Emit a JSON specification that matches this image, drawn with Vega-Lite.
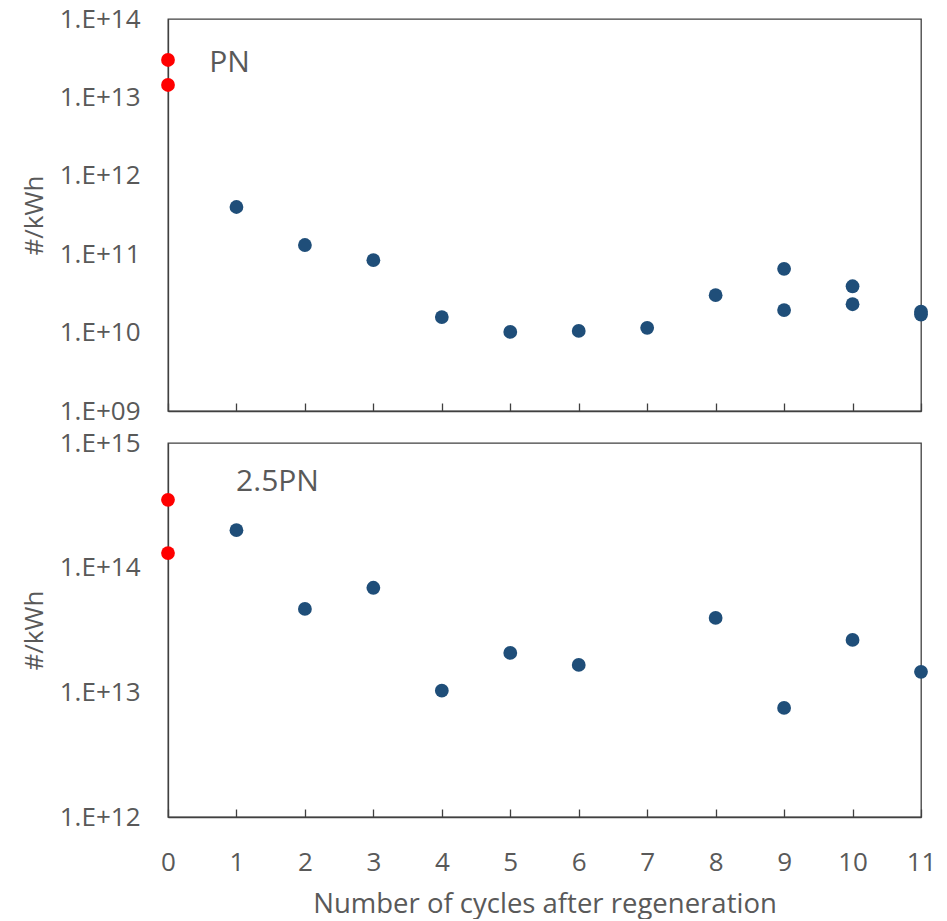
{
  "$schema": "https://vega.github.io/schema/vega-lite/v6.json",
  "background": "white",
  "padding": {"left": 20, "top": 5, "right": 20, "bottom": 0},
  "spacing": 4,
  "config": {
    "font": "Open Sans",
    "view": {"stroke": "#404040", "strokeWidth": 1.3},
    "axis": {"labelColor": "#595959", "titleColor": "#595959", "domainColor": "#404040", "tickColor": "#404040", "grid": false, "labelFont": "Open Sans", "titleFont": "Open Sans", "titleFontWeight": "normal"}
  },
  "datasets": {
    "pn": [
      {"cycle": 0, "value": 3.0e13, "group": "red"},
      {"cycle": 0, "value": 1.44e13, "group": "red"},
      {"cycle": 1, "value": 4.0e11, "group": "blue"},
      {"cycle": 2, "value": 1.31e11, "group": "blue"},
      {"cycle": 3, "value": 8.4e10, "group": "blue"},
      {"cycle": 4, "value": 1.58e10, "group": "blue"},
      {"cycle": 5, "value": 1.02e10, "group": "blue"},
      {"cycle": 6, "value": 1.05e10, "group": "blue"},
      {"cycle": 7, "value": 1.15e10, "group": "blue"},
      {"cycle": 8, "value": 3.0e10, "group": "blue"},
      {"cycle": 9, "value": 6.5e10, "group": "blue"},
      {"cycle": 9, "value": 1.94e10, "group": "blue"},
      {"cycle": 10, "value": 3.9e10, "group": "blue"},
      {"cycle": 10, "value": 2.3e10, "group": "blue"},
      {"cycle": 11, "value": 1.85e10, "group": "blue"},
      {"cycle": 11, "value": 1.7e10, "group": "blue"}
    ],
    "pn25": [
      {"cycle": 0, "value": 3.5e14, "group": "red"},
      {"cycle": 0, "value": 1.31e14, "group": "red"},
      {"cycle": 1, "value": 2.0e14, "group": "blue"},
      {"cycle": 2, "value": 4.67e13, "group": "blue"},
      {"cycle": 3, "value": 6.9e13, "group": "blue"},
      {"cycle": 4, "value": 1.03e13, "group": "blue"},
      {"cycle": 5, "value": 2.07e13, "group": "blue"},
      {"cycle": 6, "value": 1.66e13, "group": "blue"},
      {"cycle": 8, "value": 3.95e13, "group": "blue"},
      {"cycle": 9, "value": 7.5e12, "group": "blue"},
      {"cycle": 10, "value": 2.63e13, "group": "blue"},
      {"cycle": 11, "value": 1.46e13, "group": "blue"}
    ],
    "labels_pn": [{"label": "PN"}],
    "labels_pn25": [{"label": "2.5PN"}]
  },
  "vconcat": [
    {
      "width": 753,
      "height": 392,
      "layer": [
        {
          "data": {"name": "pn"},
          "mark": {"type": "point", "filled": true, "opacity": 1, "size": 190},
          "encoding": {
            "x": {"field": "cycle", "type": "quantitative",
              "scale": {"domain": [0, 11], "nice": false, "zero": false},
              "axis": {"values": [0,1,2,3,4,5,6,7,8,9,10,11], "labels": false, "title": null, "tickSize": -8, "tickWidth": 1.3, "domainWidth": 1.3}},
            "y": {"field": "value", "type": "quantitative",
              "scale": {"type": "log", "domain": [1e9, 1e14], "nice": false},
              "axis": {"values": [1e9, 1e10, 1e11, 1e12, 1e13, 1e14], "ticks": false, "tickSize": 0, "labelPadding": 28, "labelFontSize": 26, "labelFlush": false, "title": "#/kWh", "titleFontSize": 26, "titlePadding": 12, "domainWidth": 1.3,
                "labelExpr": "'1.E+' + (round(log(datum.value)/LN10) < 10 ? '0' : '') + round(log(datum.value)/LN10)"}},
            "color": {"field": "group", "type": "nominal", "scale": {"domain": ["red", "blue"], "range": ["#FF0000", "#1F4E79"]}, "legend": null}
          }
        },
        {
          "data": {"name": "labels_pn"},
          "mark": {"type": "text", "font": "Open Sans", "fontSize": 30, "color": "#595959"},
          "encoding": {
            "x": {"datum": 0.9, "type": "quantitative"},
            "y": {"datum": 2.75e13, "type": "quantitative"},
            "text": {"field": "label"}
          }
        }
      ]
    },
    {
      "width": 753,
      "height": 374,
      "layer": [
        {
          "data": {"name": "pn25"},
          "mark": {"type": "point", "filled": true, "opacity": 1, "size": 190},
          "encoding": {
            "x": {"field": "cycle", "type": "quantitative",
              "scale": {"domain": [0, 11], "nice": false, "zero": false},
              "axis": {"values": [0,1,2,3,4,5,6,7,8,9,10,11], "format": "d", "labelOverlap": false, "labelFlush": false, "tickSize": -8, "tickWidth": 1.3, "domainWidth": 1.3, "labelFontSize": 26, "labelPadding": 40, "title": "Number of cycles after regeneration", "titleFontSize": 27.5, "titlePadding": 15}},
            "y": {"field": "value", "type": "quantitative",
              "scale": {"type": "log", "domain": [1e12, 1e15], "nice": false},
              "axis": {"values": [1e12, 1e13, 1e14, 1e15], "ticks": false, "tickSize": 0, "labelPadding": 28, "labelFontSize": 26, "labelFlush": false, "title": "#/kWh", "titleFontSize": 26, "titlePadding": 12, "domainWidth": 1.3,
                "labelExpr": "'1.E+' + (round(log(datum.value)/LN10) < 10 ? '0' : '') + round(log(datum.value)/LN10)"}},
            "color": {"field": "group", "type": "nominal", "scale": {"domain": ["red", "blue"], "range": ["#FF0000", "#1F4E79"]}, "legend": null}
          }
        },
        {
          "data": {"name": "labels_pn25"},
          "mark": {"type": "text", "font": "Open Sans", "fontSize": 30, "color": "#595959"},
          "encoding": {
            "x": {"datum": 1.6, "type": "quantitative"},
            "y": {"datum": 4.86e14, "type": "quantitative"},
            "text": {"field": "label"}
          }
        }
      ]
    }
  ]
}
